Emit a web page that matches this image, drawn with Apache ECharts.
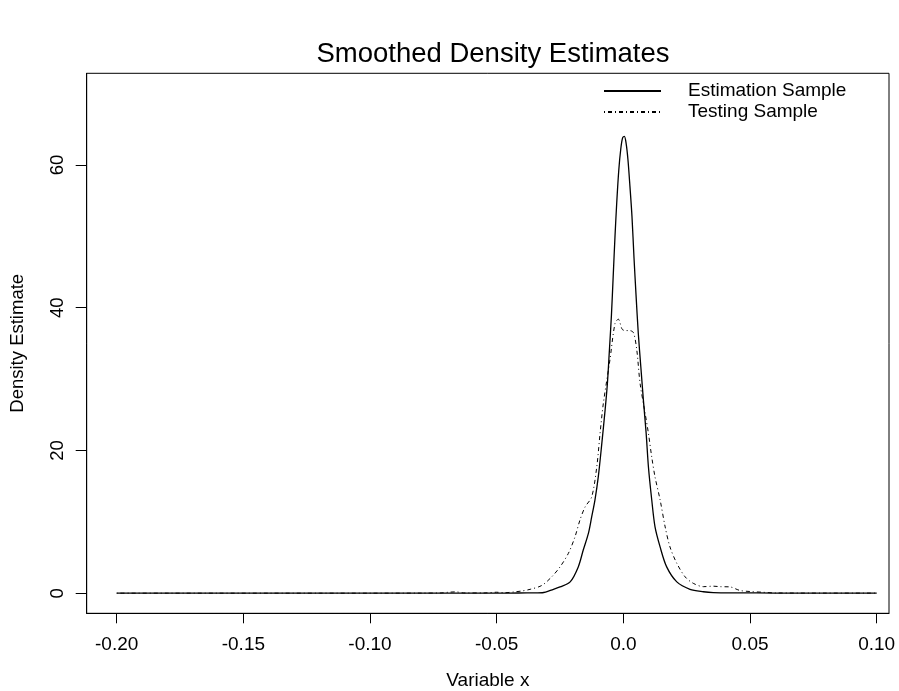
<!DOCTYPE html>
<html>
<head>
<meta charset="utf-8">
<script src="https://cdn.jsdelivr.net/npm/echarts@6/dist/echarts.min.js"></script>
<style>html,body{margin:0;padding:0;background:#fff;}#c{width:899px;height:691px;}</style>
</head>
<body>
<div id="c"></div>
<script>
// ---- data ----
const seriesNames = ['Estimation Sample', 'Testing Sample'];

const estX = [-0.200, -0.180, -0.160, -0.140, -0.120, -0.100, -0.080, -0.060, -0.045, -0.038, -0.032,
  -0.0276, -0.025, -0.021, -0.0178, -0.0158, -0.0138, -0.0125, -0.0112, -0.0099, -0.0085, -0.0072,
  -0.0063, -0.0055, -0.0047, -0.0040, -0.0033, -0.0026, -0.0018, -0.0010, -0.0003, 0.0004, 0.0011,
  0.0018, 0.0026, 0.0034, 0.0042, 0.0050, 0.0059, 0.0069, 0.0079, 0.0090, 0.0099, 0.0112, 0.0125,
  0.0145, 0.0171, 0.0211, 0.0263, 0.0316, 0.0355, 0.045, 0.060, 0.080, 0.100];
const estY = [0.03, 0.03, 0.03, 0.03, 0.03, 0.03, 0.03, 0.04, 0.04, 0.05, 0.08,
  0.56, 0.9, 1.6, 3.7, 6.1, 8.4, 10.7, 13.1, 16.3, 21.0, 25.7,
  29.4, 34.1, 39.0, 44.5, 50.0, 54.8, 59.3, 62.3, 63.8, 64.0, 63.0,
  60.8, 57.0, 52.8, 47.0, 41.8, 36.4, 31.7, 27.1, 22.4, 17.7, 13.1, 9.3,
  6.5, 3.7, 1.6, 0.56, 0.22, 0.1, 0.06, 0.04, 0.03, 0.03];

const testX = [-0.200, -0.180, -0.160, -0.140, -0.120, -0.100, -0.080, -0.072, -0.069, -0.066, -0.063,
  -0.055, -0.050, -0.047, -0.043, -0.040, -0.0368, -0.0322, -0.0283, -0.025, -0.0217, -0.0191,
  -0.0171, -0.0151, -0.0125, -0.0105, -0.0092, -0.0079, -0.0053, -0.0033, -0.0020, -0.0005, 0.0007,
  0.0025, 0.0040, 0.0053, 0.0066, 0.0086, 0.0099, 0.0112, 0.0125, 0.0145, 0.0165, 0.0184, 0.0211,
  0.0244, 0.0276, 0.0316, 0.0355, 0.0382, 0.042, 0.046, 0.050, 0.055, 0.060, 0.080, 0.100];
const testY = [0.02, 0.02, 0.02, 0.02, 0.02, 0.02, 0.03, 0.05, 0.15, 0.2, 0.05,
  0.05, 0.15, 0.08, 0.2, 0.33, 0.56, 1.1, 2.3, 3.7, 5.6, 7.9,
  10.3, 12.1, 13.5, 17.7, 22.4, 26.6, 32.7, 37.8, 38.4, 37.0, 36.8,
  36.8, 36.5, 34.1, 29.4, 25.2, 22.4, 19.1, 16.3, 13.1, 9.3, 6.5, 4.2,
  2.3, 1.4, 0.93, 1.0, 0.93, 0.9, 0.4, 0.25, 0.15, 0.05, 0.03, 0.03];

const xTicks = [-0.20, -0.15, -0.10, -0.05, 0.0, 0.05, 0.10];
const xTickLabels = ['-0.20', '-0.15', '-0.10', '-0.05', '0.0', '0.05', '0.10'];
const yTicks = [0, 20, 40, 60];
const yTickLabels = ['0', '20', '40', '60'];

// ---- chart ----
const pairs = (xs, ys) => xs.map((x, i) => [x, ys[i]]);
const FONT = '"Liberation Sans", Arial, sans-serif';
const chart = echarts.init(document.getElementById('c'), null, {renderer: 'canvas'});

chart.setOption({
  animation: false,
  backgroundColor: '#fff',
  title: {
    text: 'Smoothed Density Estimates',
    left: 488, top: 35, textAlign: 'center',
    textStyle: {fontFamily: FONT, fontSize: 27.5, fontWeight: 'normal', color: '#000'}
  },
  legend: {
    orient: 'vertical', left: 603, top: 81.5, padding: 0,
    itemWidth: 57, itemHeight: 12, itemGap: 2,
    selectedMode: false,
    itemStyle: {opacity: 0},
    textStyle: {fontFamily: FONT, fontSize: 19, lineHeight: 19, color: '#000', padding: [0, 0, 0, 22]},
    data: seriesNames
  },
  grid: {left: 86.7, top: 73.3, right: 10, bottom: 77.7, show: true, borderColor: '#000', borderWidth: 1,
    containLabel: false, outerBoundsMode: 'none'},
  xAxis: {
    type: 'value', min: -0.21184, max: 0.10486,
    name: 'Variable x', nameLocation: 'middle', nameGap: 58,
    nameTextStyle: {fontFamily: FONT, fontSize: 19, color: '#000'},
    axisLine: {show: true, onZero: false, lineStyle: {color: '#000'}},
    axisTick: {show: true, length: 10, customValues: xTicks, lineStyle: {color: '#000'}},
    axisLabel: {
      customValues: xTicks, margin: 22, fontFamily: FONT, fontSize: 19, color: '#000',
      formatter: v => { const i = xTicks.findIndex(t => Math.abs(t - v) < 1e-9); return i >= 0 ? xTickLabels[i] : ''; }
    },
    splitLine: {show: false}
  },
  yAxis: {
    type: 'value', min: -2.80, max: 72.84,
    name: 'Density Estimate', nameLocation: 'middle', nameGap: 59, nameRotate: 90,
    nameTextStyle: {fontFamily: FONT, fontSize: 18.5, color: '#000'},
    axisLine: {show: true, onZero: false, lineStyle: {color: '#000'}},
    axisTick: {show: true, length: 11, customValues: yTicks, lineStyle: {color: '#000'}},
    axisLabel: {
      customValues: yTicks, margin: 19, rotate: 90, fontFamily: FONT, fontSize: 18.5, color: '#000',
      formatter: v => { const i = yTicks.findIndex(t => Math.abs(t - v) < 1e-9); return i >= 0 ? yTickLabels[i] : ''; }
    },
    splitLine: {show: false}
  },
  series: [
    {
      name: seriesNames[0], type: 'line', data: pairs(estX, estY),
      symbol: 'none', smooth: 0.3, clip: true,
      lineStyle: {color: '#000', width: 1.3, type: 'solid'},
      itemStyle: {color: '#000'}
    },
    {
      name: seriesNames[1], type: 'line', data: pairs(testX, testY),
      symbol: 'none', smooth: 0.3, clip: true,
      lineStyle: {color: '#000', width: 1, type: [1, 3, 4, 3]},
      itemStyle: {color: '#000'}
    }
  ]
});
</script>
</body>
</html>
